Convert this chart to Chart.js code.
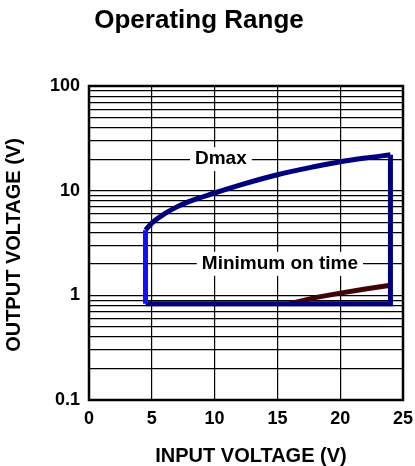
<!DOCTYPE html>
<html><head><meta charset="utf-8">
<script src="https://cdn.jsdelivr.net/npm/chart.js@4.4.1/dist/chart.umd.min.js"></script>
<style>html,body{margin:0;padding:0;background:#fff}#wrap{width:415px;height:466px;position:relative}</style>
</head><body><div id="wrap"><canvas id="c"></canvas></div>
<script>
const titleText = "Operating Range";
const xTitle = "INPUT VOLTAGE (V)";
const yTitle = "OUTPUT VOLTAGE (V)";
const yTickLabels = [0.1, 1, 10, 100];
const xTickLabels = [0, 5, 10, 15, 20, 25];

const dmaxVin  = [4.5, 5, 6, 7, 8, 10, 12, 15, 18, 20, 22, 24];
const dmaxVout = [4.2, 4.9, 6.0, 7.0, 7.9, 9.5, 11.3, 14.2, 17.0, 18.9, 20.5, 22.0];

const boundVin  = [24, 24, 4.5];
const boundVout = [22.0, 0.83, 0.83];

const leftVin  = [4.5, 4.5];
const leftVout = [0.83, 4.2];

const tonVin  = [16, 18, 20, 22, 24];
const tonVout = [0.83, 0.95, 1.05, 1.15, 1.25];

const labels = [
  {text: "Dmax", x: 10.5, y: 20},
  {text: "Minimum on time", x: 15.2, y: 2.0}
];

const pts = (xs, ys) => xs.map((x, i) => ({x, y: ys[i]}));
const FONT = "'Liberation Sans', Arial, sans-serif";

const textPlugin = {
  id: 'texts',
  afterDatasetsDraw(chart) {
    const {ctx, chartArea: a, scales} = chart;
    ctx.save();
    ctx.strokeStyle = '#000'; ctx.lineWidth = 2.5;
    ctx.strokeRect(a.left, a.top, a.right - a.left, a.bottom - a.top);
    ctx.font = "bold 19px " + FONT;
    ctx.textAlign = 'center'; ctx.textBaseline = 'middle';
    labels.forEach(l => {
      const px = scales.x.getPixelForValue(l.x), py = scales.y.getPixelForValue(l.y);
      const w = ctx.measureText(l.text).width;
      ctx.fillStyle = '#fff';
      ctx.fillRect(px - w / 2 - 5, py - 12, w + 10, 24);
      ctx.fillStyle = '#000';
      ctx.fillText(l.text, px, py);
    });
    ctx.font = "bold 26px " + FONT;
    ctx.fillText(titleText, 199, 21);
    ctx.font = "bold 20px " + FONT;
    ctx.fillText(xTitle, 251, 456);
    ctx.translate(14, 245); ctx.rotate(-Math.PI / 2);
    ctx.fillText(yTitle, 0, 0);
    ctx.restore();
  }
};

new Chart(document.getElementById('c'), {
  type: 'line',
  data: {
    datasets: [
      {data: pts(leftVin, leftVout), borderColor: '#1010ff', borderWidth: 5, pointRadius: 0, borderCapStyle: 'butt'},
      {data: pts(boundVin, boundVout), borderColor: '#00007f', borderWidth: 5, pointRadius: 0, borderJoinStyle: 'miter'},
      {data: pts(dmaxVin, dmaxVout), borderColor: '#00007f', borderWidth: 5, pointRadius: 0, tension: 0.3, cubicInterpolationMode: 'monotone'},
      {data: pts(tonVin, tonVout), borderColor: '#400404', borderWidth: 5, pointRadius: 0}
    ]
  },
  options: {
    responsive: true, maintainAspectRatio: false, animation: false,
    devicePixelRatio: 1,
    layout: {padding: {top: 86, right: 12, left: 0, bottom: 0}},
    plugins: {legend: {display: false}, title: {display: false}, tooltip: {enabled: false}},
    scales: {
      x: {
        type: 'linear', min: 0, max: 25,
        afterFit: s => { s.height = 66; s.paddingLeft = 0; s.paddingRight = 0; },
        afterBuildTicks: s => { s.ticks = xTickLabels.map(v => ({value: v})); },
        ticks: {color: '#000', padding: 8, font: {family: FONT, size: 18, weight: 'bold'}, maxRotation: 0, autoSkip: false},
        grid: {color: '#000', lineWidth: 1.2, drawTicks: false},
        border: {display: false}
      },
      y: {
        type: 'logarithmic', min: 0.1, max: 100,
        afterFit: s => { s.width = 89; s.paddingTop = 0; s.paddingBottom = 0; },
        afterBuildTicks: s => {
          const t = [];
          for (let d = 0.1; d < 100; d *= 10) for (let m = 1; m < 10; m++) t.push({value: +(m * d).toPrecision(3)});
          t.push({value: 100});
          s.ticks = t;
        },
        ticks: {
          color: '#000', padding: 9, autoSkip: false,
          font: {family: FONT, size: 18, weight: 'bold'},
          callback: v => yTickLabels.includes(+(+v).toPrecision(3)) ? String(+(+v).toPrecision(3)) : ''
        },
        grid: {color: '#000', lineWidth: 1.2, drawTicks: false},
        border: {display: false}
      }
    }
  },
  plugins: [textPlugin]
});
</script></body></html>
